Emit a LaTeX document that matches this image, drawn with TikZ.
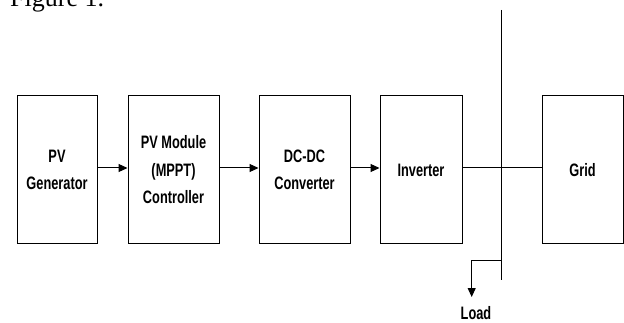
\documentclass[tikz,border=0pt]{standalone}
\usepackage{fontspec}
\setmainfont{Liberation Serif}
\newfontfamily\boxfont[FakeStretch=0.71]{Liberation Sans}
\usetikzlibrary{arrows.meta}
\begin{document}
\begin{tikzpicture}[x=1pt,y=-1pt,
  blk/.style={draw,line width=1pt,minimum width=81pt,minimum height=148pt,inner sep=0pt,
    align=center,font={\boxfont\bfseries\fontsize{18}{27.5}\selectfont}},
  conn/.style={line width=1pt},
  arr/.style={line width=1pt,-{Triangle[length=9pt,width=8pt]}}]
\useasboundingbox (0,0) rectangle (624,323);
\node[anchor=base west,font=\fontsize{26}{30}\selectfont,inner sep=0pt] (cap) at (10,7) {Figure 1.};
\node[blk,minimum width=80pt] (gen) at (57,170) {PV\\Generator};
\node[blk,minimum width=91pt] (mppt) at (173.5,170) {PV Module\\(MPPT)\\Controller};
\node[blk,minimum width=91pt] (dcdc) at (304.5,170) {DC-DC\\Converter};
\node[blk,minimum width=82pt] (inv) at (421,170) {Inverter};
\node[blk,minimum width=81pt] (grid) at (582.5,170) {Grid};
\coordinate (bt) at (501.7,10);
\coordinate (bb) at (501.7,280);
\coordinate (bj) at (501.7,168);
\coordinate (lj) at (501.7,261);
\coordinate (lc) at (471.7,261);
\node[font={\boxfont\bfseries\fontsize{18}{20}\selectfont},anchor=base,inner sep=0pt] (load) at (476,319) {Load};
\draw[arr] (gen.east |- 0,168) -- (mppt.west |- 0,168);
\draw[arr] (mppt.east |- 0,168) -- (dcdc.west |- 0,168);
\draw[arr] (dcdc.east |- 0,168) -- (inv.west |- 0,168);
\draw[conn] (inv.east |- bj) -- (grid.west |- bj);
\draw[conn] (bt) -- (bb);
\draw[arr] (lj) -- (lc) -- ++(0,36);
\end{tikzpicture}
\end{document}
